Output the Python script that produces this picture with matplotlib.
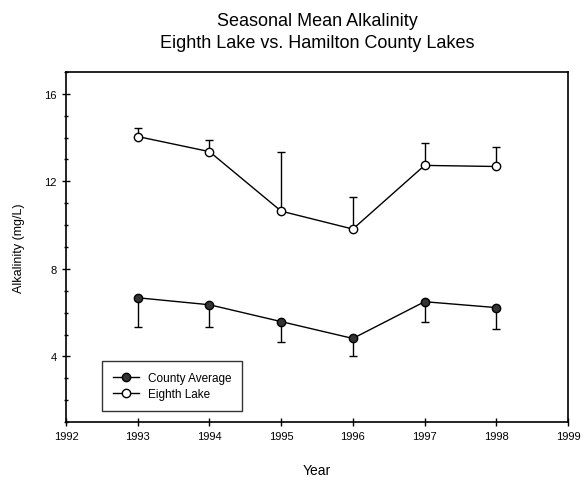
import matplotlib
matplotlib.use("Agg")
import matplotlib.pyplot as plt
from matplotlib.ticker import MultipleLocator

plt.rcParams['font.family'] = ['Liberation Sans', 'DejaVu Sans']

years = [1993, 1994, 1995, 1996, 1997, 1998]
county_mean = [6.68, 6.36, 5.59, 4.82, 6.50, 6.23]
county_err_low = [1.32, 1.00, 0.95, 0.82, 0.91, 1.00]
eighth_mean = [14.05, 13.36, 10.64, 9.82, 12.73, 12.68]
eighth_err_high = [0.40, 0.54, 2.72, 1.45, 1.04, 0.87]

fig = plt.figure(figsize=(5.83, 4.85), dpi=100)
ax = fig.add_axes([0.1132, 0.1278, 0.8611, 0.7217])

ax.errorbar(years, county_mean, yerr=[county_err_low, [0]*len(years)],
            fmt='none', ecolor='black', elinewidth=1, capsize=3, capthick=1, zorder=2)
ax.errorbar(years, eighth_mean, yerr=[[0]*len(years), eighth_err_high],
            fmt='none', ecolor='black', elinewidth=1, capsize=3, capthick=1, zorder=2)
ax.plot(years, county_mean, '-o', color='black', mfc='#333333', mec='black',
        markersize=6, lw=1, label='County Average', zorder=3)
ax.plot(years, eighth_mean, '-o', color='black', mfc='white', mec='black',
        markersize=6, lw=1, label='Eighth Lake', zorder=3)

ax.set_xlim(1992, 1999)
ax.set_ylim(1, 17)
ax.xaxis.set_major_locator(MultipleLocator(1))
ax.yaxis.set_major_locator(MultipleLocator(4))
ax.yaxis.set_minor_locator(MultipleLocator(1))
ax.tick_params(axis='both', which='both', direction='inout', labelsize=8, width=1)
ax.tick_params(axis='both', which='major', length=6)
ax.tick_params(axis='both', which='minor', length=3)
ax.tick_params(top=False, right=False)
for s in ax.spines.values():
    s.set_linewidth(1.2)

ax.set_xlabel('Year', fontsize=10, labelpad=16)
ax.set_ylabel('Alkalinity (mg/L)', fontsize=9, labelpad=14)
ax.set_title('Seasonal Mean Alkalinity\nEighth Lake vs. Hamilton County Lakes',
             fontsize=13, pad=18, linespacing=1.4)

leg = ax.legend(loc='lower left', bbox_to_anchor=(0.06, 0.015), fontsize=8.5,
                frameon=True, fancybox=False, edgecolor='black',
                handlelength=2.2, borderpad=0.9, labelspacing=0.35)
leg.get_frame().set_linewidth(1)

fig.savefig('out.png', dpi=100)
